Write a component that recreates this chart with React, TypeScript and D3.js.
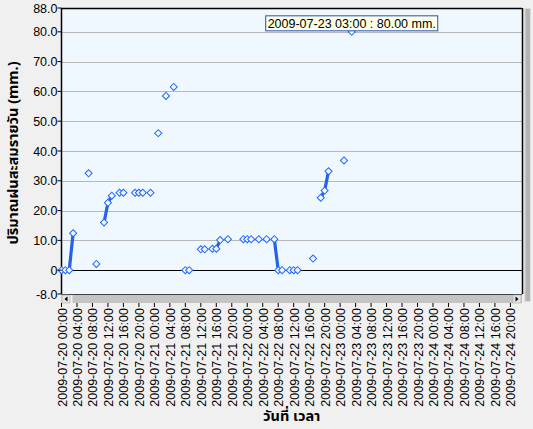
import React from "react";
import * as d3 from "d3";

// ---- data ----
const times = [
  "2009-07-20 00:00", "2009-07-20 01:00", "2009-07-20 02:00", "2009-07-20 03:00",
  "2009-07-20 07:00", "2009-07-20 09:00", "2009-07-20 11:00", "2009-07-20 12:00",
  "2009-07-20 13:00", "2009-07-20 15:00", "2009-07-20 16:00", "2009-07-20 19:00",
  "2009-07-20 20:00", "2009-07-20 21:00", "2009-07-20 23:00", "2009-07-21 01:00",
  "2009-07-21 03:00", "2009-07-21 05:00", "2009-07-21 08:00", "2009-07-21 09:00",
  "2009-07-21 12:00", "2009-07-21 13:00", "2009-07-21 15:00", "2009-07-21 16:00",
  "2009-07-21 17:00", "2009-07-21 19:00", "2009-07-21 23:00", "2009-07-22 00:00",
  "2009-07-22 01:00", "2009-07-22 03:00", "2009-07-22 05:00", "2009-07-22 07:00",
  "2009-07-22 08:00", "2009-07-22 09:00", "2009-07-22 11:00", "2009-07-22 12:00",
  "2009-07-22 13:00", "2009-07-22 17:00", "2009-07-22 19:00", "2009-07-22 20:00",
  "2009-07-22 21:00", "2009-07-23 01:00", "2009-07-23 03:00",
];
const rainfall = [
  0, 0, 0, 12.4,
  32.5, 2.1, 16.0, 22.6,
  25.0, 26.0, 26.0, 26.0,
  26.0, 26.0, 26.0, 46.0,
  58.5, 61.5, 0, 0,
  7.0, 7.0, 7.2, 7.2,
  10.1, 10.4, 10.4, 10.4,
  10.4, 10.4, 10.4, 10.4,
  0, 0, 0, 0,
  0, 3.9, 24.3, 26.7,
  33.2, 36.8, 80.0,
];
const yTicks = [88, 80, 70, 60, 50, 40, 30, 20, 10, 0, -8];
const gridValues = [80, 70, 60, 50, 40, 30, 20, 10];
const xStart = "2009-07-20 00:00";
const xEnd = "2009-07-24 23:00";
const tooltipTime = "2009-07-23 03:00";
const tooltipValue = 80.0;
const yTitle = "ปริมาณฝนสะสมรายวัน  (mm.)";
const xTitle = "วันที่ เวลา";

const W = 533;
const H = 429;
const L = 61.5, R = 522, T = 8, B = 294;
const FONT = "'Liberation Sans', Arial, 'DejaVu Sans', sans-serif";
const THAI = "'Noto Sans Thai', 'Tahoma', 'Loma', 'Garuda', 'Norasi', 'DejaVu Sans', sans-serif";

const parse = d3.timeParse("%Y-%m-%d %H:%M");
const fmt = d3.timeFormat("%Y-%m-%d %H:%M");

export default function App() {
  const t0 = parse(xStart)!;
  const t1 = parse(xEnd)!;
  const x = d3.scaleTime().domain([t0, t1]).range([L, R]);
  const y = d3.scaleLinear().domain([-8, 88]).range([B, T]);

  const pts = times.map((t, i) => ({ t: parse(t)!, v: rainfall[i] }));
  const byKey = new Map(pts.map((p) => [+p.t, p.v]));
  const hourly = d3.timeHour.range(t0, d3.timeHour.offset(t1, 1)).map((t) => ({
    t,
    v: byKey.has(+t) ? (byKey.get(+t) as number) : null,
  }));
  const line = d3
    .line<{ t: Date; v: number | null }>()
    .defined((d) => d.v !== null)
    .x((d) => x(d.t))
    .y((d) => y(d.v as number));

  const xTicks = d3.timeHour.every(4)!.range(t0, d3.timeHour.offset(t1, 1));
  const diamond = d3.symbol().type(d3.symbolSquare).size(25);

  const tipX = x(parse(tooltipTime)!);
  const tipY = y(tooltipValue);

  return (
    <svg
      width={W}
      height={H}
      style={{ position: "fixed", left: 0, top: 0, background: "#f0f0f0" }}
    >
      <rect x={0} y={0} width={W} height={H} fill="#f0f0f0" />
      {/* plot area */}
      <rect x={L} y={T} width={R - L} height={B - T} fill="#f0f8ff" />
      {gridValues.map((g) => (
        <line key={g} x1={L} x2={R} y1={Math.round(y(g)) + 0.5} y2={Math.round(y(g)) + 0.5} stroke="#b8b8b8" strokeWidth={1.2} />
      ))}
      <line x1={L} x2={R} y1={Math.round(y(0)) + 0.5} y2={Math.round(y(0)) + 0.5} stroke="#000" strokeWidth={1.2} />
      {/* border */}
      <line x1={L} x2={R} y1={T + 0.5} y2={T + 0.5} stroke="#000" strokeWidth={1.5} />
      <line x1={L} x2={L} y1={T} y2={B} stroke="#000" strokeWidth={1.5} />
      <line x1={R + 0.5} x2={R + 0.5} y1={T} y2={B} stroke="#000" strokeWidth={1.5} />
      <line x1={L} x2={R} y1={B + 0.5} y2={B + 0.5} stroke="#404040" strokeWidth={1} />

      {/* series line */}
      <path d={line(hourly) || ""} fill="none" stroke="#2462e6" strokeWidth={3.2} />
      {pts.map((p, i) => (
        <path
          key={i}
          d={diamond() || ""}
          transform={`translate(${x(p.t)},${y(p.v)}) rotate(45)`}
          fill="#f0f8ff"
          stroke="#2266ff"
          strokeWidth={1}
        />
      ))}

      {/* y axis */}
      {yTicks.map((v) => (
        <g key={v}>
          <line x1={L - 4} x2={L} y1={y(v)} y2={y(v)} stroke="#000" />
          <text x={L - 4} y={y(v)} dy="0.36em" textAnchor="end" fontFamily={FONT} fontSize={12.5} fill="#000">
            {v === 0 ? "0" : v.toFixed(1)}
          </text>
        </g>
      ))}
      <text
        transform={`translate(18,${(T + B) / 2 + 2}) rotate(-90)`}
        textAnchor="middle"
        fontFamily={THAI}
        fontWeight="bold"
        fontSize={14.5}
        fill="#000"
      >
        {yTitle}
      </text>

      {/* horizontal scrollbar */}
      <rect x={L} y={295} width={R - L} height={8} fill="#c4c4c4" />
      <rect x={L + 0.5} y={295} width={8} height={8} fill="#e4e4e4" stroke="#a0a0a0" strokeWidth={0.5} />
      <path d={`M${L + 3},299 L${L + 6},296.5 L${L + 6},301.5 Z`} fill="#000" />
      <rect x={L + 9} y={295} width={2} height={8} fill="#f4f4f4" />
      <rect x={R - 9} y={295} width={8} height={8} fill="#e4e4e4" stroke="#a0a0a0" strokeWidth={0.5} />
      <path d={`M${R - 3.5},299 L${R - 6.5},296.5 L${R - 6.5},301.5 Z`} fill="#000" />

      {/* vertical scrollbar */}
      <rect x={524} y={T} width={7} height={294} fill="#dcdcdc" />
      <rect x={525.5} y={T + 1} width={4.5} height={292} fill="#b4b4b4" />

      {/* x axis */}
      {xTicks.map((t, i) => (
        <g key={i}>
          <line x1={x(t)} x2={x(t)} y1={303} y2={307} stroke="#000" />
          <text
            transform={`translate(${x(t) + 5},308) rotate(-90)`}
            textAnchor="end"
            fontFamily={FONT}
            fontSize={12.5}
            fill="#000"
          >
            {fmt(t)}
          </text>
        </g>
      ))}
      <text x={(L + R) / 2} y={421} textAnchor="middle" fontFamily={THAI} fontWeight="bold" fontSize={14.5} fill="#000">
        {xTitle}
      </text>

      {/* tooltip */}
      <rect x={tipX - 86} y={tipY - 16} width={172} height={15} fill="#ffffe6" stroke="#1f4fbf" strokeWidth={1} />
      <text x={tipX} y={tipY - 4} textAnchor="middle" fontFamily={FONT} fontSize={12.5} fill="#000">
        {`${tooltipTime} : ${tooltipValue.toFixed(2)} mm.`}
      </text>
    </svg>
  );
}
